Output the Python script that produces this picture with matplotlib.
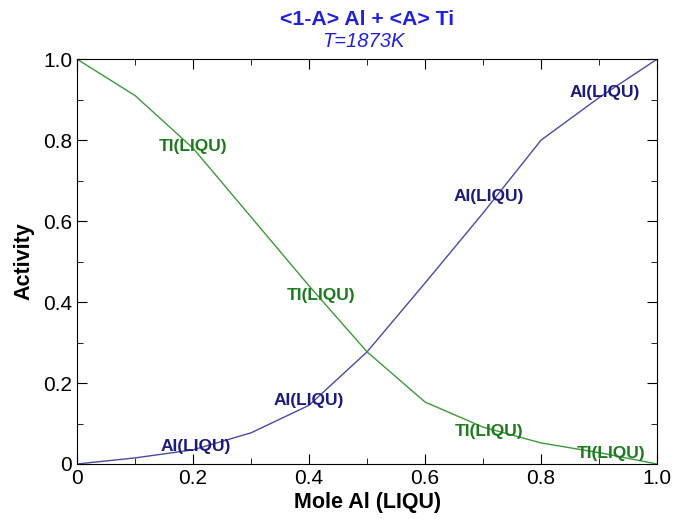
import numpy as np
import matplotlib.pyplot as plt
from matplotlib.ticker import MultipleLocator, FixedFormatter, FixedLocator

plt.rcParams['font.family'] = ['Liberation Sans', 'DejaVu Sans']

# mole fraction Al in liquid
x_al = [0.0, 0.1, 0.2, 0.3, 0.4, 0.5, 0.6, 0.7, 0.8, 0.9, 1.0]
# activities
a_al = [0.0, 0.015, 0.035, 0.077, 0.145, 0.277, 0.447, 0.62, 0.80, 0.905, 1.0]
a_ti = [1.0, 0.91, 0.78, 0.61, 0.44, 0.277, 0.153, 0.091, 0.052, 0.028, 0.0]

# label positions (x, y) for curve annotations
al_labels = [(0.205, 0.044), (0.40, 0.158), (0.71, 0.66), (0.91, 0.918)]
ti_labels = [(0.20, 0.785), (0.42, 0.415), (0.71, 0.08), (0.92, 0.027)]

tick_vals = [0, 0.2, 0.4, 0.6, 0.8, 1.0]
tick_text = ['0', '0.2', '0.4', '0.6', '0.8', '1.0']

fig = plt.figure(figsize=(6.76, 5.19), dpi=100)
ax = fig.add_axes([0.114, 0.106, 0.858, 0.78])

al_line = '#4a4aa8'
ti_line = '#3c9a3c'
al_text = '#1c1c80'
ti_text = '#1e7a1e'

ax.plot(x_al, a_al, color=al_line, lw=1.0)
ax.plot(x_al, a_ti, color=ti_line, lw=1.0)

for (lx, ly) in al_labels:
    ax.text(lx, ly, 'AI(LIQU)', color=al_text, fontsize=12.5, fontweight='bold',
            ha='center', va='center')
for (lx, ly) in ti_labels:
    ax.text(lx, ly, 'TI(LIQU)', color=ti_text, fontsize=12.5, fontweight='bold',
            ha='center', va='center')

ax.set_xlim(0, 1)
ax.set_ylim(0, 1)
ax.xaxis.set_major_locator(FixedLocator(tick_vals))
ax.xaxis.set_major_formatter(FixedFormatter(tick_text))
ax.yaxis.set_major_locator(FixedLocator(tick_vals))
ax.yaxis.set_major_formatter(FixedFormatter(tick_text))
ax.xaxis.set_minor_locator(MultipleLocator(0.1))
ax.yaxis.set_minor_locator(MultipleLocator(0.1))
ax.tick_params(which='both', direction='in', top=True, right=True, labelsize=15)
ax.tick_params(which='major', length=7)
ax.tick_params(which='minor', length=4)

ax.set_xlabel('Mole Al (LIQU)', fontsize=15.5, fontweight='bold', labelpad=3)
ax.set_ylabel('Activity', fontsize=15.5, fontweight='bold', labelpad=6)

fig.text(0.543, 0.963, '<1-A> Al + <A> Ti', color='#2222dd', fontsize=15.3,
         fontweight='bold', ha='center', va='center')
fig.text(0.538, 0.920, 'T=1873K', color='#2222dd', fontsize=14.5,
         style='italic', ha='center', va='center')

plt.savefig('out.png', dpi=100)
